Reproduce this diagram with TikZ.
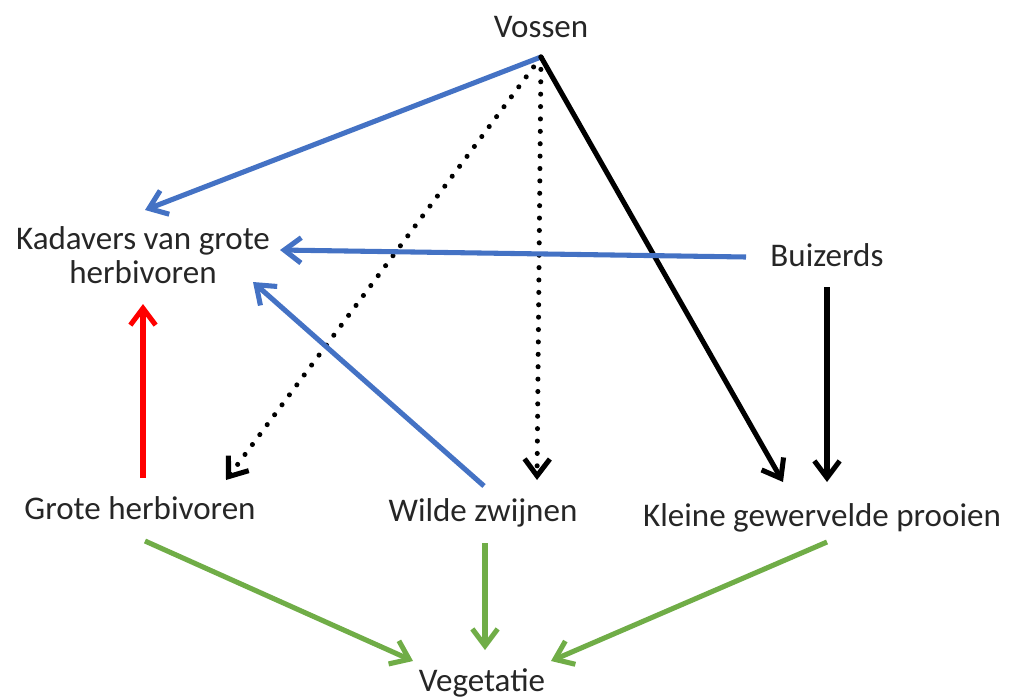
\documentclass[tikz,border=0pt]{standalone}
\usepackage{fontspec}
\setmainfont{Carlito}
\usetikzlibrary{arrows.meta,calc}
\definecolor{pijlblauw}{HTML}{4472C4}
\definecolor{pijlgroen}{HTML}{70AD47}
\definecolor{pijlrood}{HTML}{FF0000}
\tikzset{
  lbl/.style={font=\fontsize{23.5}{24}\selectfont, inner sep=0pt, text=black!85},
  pijl/.style={line width=3.6pt, -{Straight Barb[length=12pt,width=18pt]}},
  stip/.style={pijl, dash pattern=on 0.01pt off 8.8pt, line cap=round},
}

\begin{document}
\begin{tikzpicture}[x=0.025cm,y=-0.025cm]
      \useasboundingbox (0,0) rectangle (1011,698);
      \node[lbl, anchor=base] (vossen) at (541,37) {Vossen};
      \node[lbl, align=center] (kadavers) at (143,255) {Kadavers van grote\\herbivoren};
      \node[lbl, anchor=base] (buizerds) at (827,266) {Buizerds};
      \node[lbl, anchor=base] (grote) at (140,519) {Grote herbivoren};
      \node[lbl, anchor=base] (wilde) at (483,521) {Wilde zwijnen};
      \node[lbl, anchor=base] (kleine) at (822,526) {Kleine gewervelde prooien};
      \node[lbl, anchor=base] (vegetatie) at (482,691) {Vegetatie};
      \coordinate (hub) at ($(vossen.base)+(0,20)$);
      \draw[pijl, pijlblauw] (hub) -- ($(kadavers)+(2,-45)$);
      \draw[stip] (hub) -- ($(grote.base)+(86,-39)$);
      \draw[stip] (hub) -- ($(wilde.base)+(54,-41)$);
      \draw[pijl] (hub) -- ($(kleine.base)+(-39,-44)$);
      \draw[pijl, pijlblauw] ($(buizerds.base)+(-81,-9)$) -- ($(kadavers)+(137,-5)$);
      \draw[pijl] ($(buizerds.base)+(0,21)$) -- ($(kleine.base)+(5,-44)$);
      \draw[pijl, pijlblauw] ($(wilde.base)+(1,-35)$) -- ($(kadavers)+(110,27)$);
      \draw[pijl, pijlrood] ($(grote.base)+(3,-41)$) -- ($(kadavers)+(0,49)$);
      \draw[pijl, pijlgroen] ($(grote.base)+(5,22)$) -- ($(vegetatie.base)+(-69,-30)$);
      \draw[pijl, pijlgroen] ($(wilde.base)+(2,22)$) -- ($(vegetatie.base)+(3,-41)$);
      \draw[pijl, pijlgroen] ($(kleine.base)+(5,16)$) -- ($(vegetatie.base)+(69,-30)$);
    \end{tikzpicture}
\end{document}
